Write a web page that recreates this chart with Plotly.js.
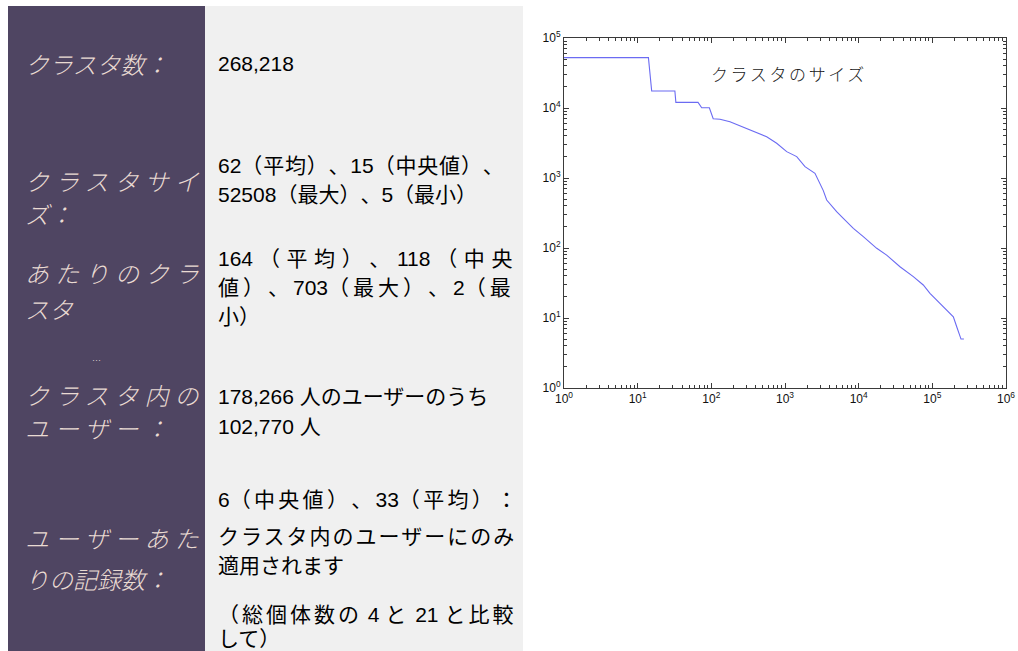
<!DOCTYPE html>
<html>
<head>
<meta charset="utf-8">
<script src="https://cdn.plot.ly/plotly-3.0.1.min.js"></script>
<style>
  html, body { margin: 0; padding: 0; background: #ffffff; }
  #chart { width: 1018px; height: 651px; }
  /* keep full-width punctuation at full width */
  #chart text { text-spacing-trim: space-all; }
</style>
</head>
<body>
<div id="chart"></div>
<script>
// Rank-size curve of the clusters (rank on x, cluster size on y)
const clusterRank = [1, 14, 15.5, 32, 33, 66, 74, 94, 106, 131, 179, 272, 372, 564, 771,
  1054, 1442, 1868, 2552, 2830, 3311, 3680, 5020, 6190, 8470, 11560, 17580, 23990,
  36390, 55210, 75340, 92900, 127000, 156700, 192800, 214300, 232300, 245000, 268218];
const clusterSize = [52508, 52508, 17500, 17500, 12050, 12050, 10100, 10100, 7030, 6900,
  6370, 5300, 4590, 3890, 3130, 2380, 2020, 1452, 1167, 935, 660, 485, 330, 265, 191,
  145, 99, 79, 54, 39, 29.6, 22.5, 16.2, 13, 10.4, 7.5, 5.7, 5, 5];

const chartTitle = 'クラスタのサイズ';
const decadeExponents = [0, 1, 2, 3, 4, 5, 6];
const yDecadeExponents = [0, 1, 2, 3, 4, 5];

// Statistics table: label lines (left column) and value lines (right column)
const labelLines = [
  ['クラスタ数：'],
  ['クラスタサイ', 'ズ：'],
  ['あたりのクラ', 'スタ'],
  ['クラスタ内の', 'ユーザー：'],
  ['ユーザーあた', 'りの記録数：']
];
const valueLines = [
  ['268,218'],
  ['62（平均）、15（中央値）、', '52508（最大）、5（最小）'],
  ['164 （平均）、118 （中央', '値）、703（最大）、2（最', '小）'],
  ['178,266 人のユーザーのうち', '102,770 人'],
  ['6（中央値）、33（平均）：', 'クラスタ内のユーザーにのみ', '適用されます'],
  ['（総個体数の 4 と 21 と比較', 'して）']
];

// ---- layout constants (pixels) ----
const W = 1018, H = 651;
const px = v => v / W;
const py = v => 1 - v / H;

const labelLineY = [[63], [180, 213], [272, 308], [394, 427], [537, 578]];
const labelSpacing = [[0], [6, 0], [6, 0], [6, 6], [6, 0]];
const valueLineY = [[63], [165, 195], [258, 287, 316], [396, 426], [499, 536, 565], [614, 638]];
const valueSpacing = [[0], [0.8, 0], [6.6, 4, 0], [0, 0], [3.3, 2, 0], [3, 0]];

// widen the CJK runs of a line (inter-character justification)
const isWide = ch => ch.codePointAt(0) >= 0x3000;
function justify(line, spacing) {
  if (!spacing) return line;
  let out = '', run = '';
  const flush = () => {
    if (run) out += '<span style="letter-spacing:' + spacing + 'px">' + run + '</span>';
    run = '';
  };
  for (const ch of line) {
    if (isWide(ch)) run += ch;
    else { flush(); out += ch; }
  }
  flush();
  return out;
}

const annotations = [];

labelLines.forEach((lines, i) => {
  lines.forEach((line, j) => {
    annotations.push({
      xref: 'paper', yref: 'paper',
      x: px(25), y: py(labelLineY[i][j]),
      xanchor: 'left', yanchor: 'middle',
      align: 'left', width: 180,
      borderpad: 0, borderwidth: 0,
      showarrow: false,
      text: justify(line, labelSpacing[i][j]),
      font: { family: 'Noto Sans CJK JP', size: 24, weight: 300, color: '#eadbd3', style: 'italic' }
    });
  });
});

// small dotted mark in the left column
annotations.push({
  xref: 'paper', yref: 'paper', x: px(96), y: py(358),
  xanchor: 'center', yanchor: 'middle', showarrow: false,
  text: '…', font: { family: 'DejaVu Sans', size: 9, color: '#cfc3c6' }
});

valueLines.forEach((lines, i) => {
  lines.forEach((line, j) => {
    annotations.push({
      xref: 'paper', yref: 'paper',
      x: px(218), y: py(valueLineY[i][j]),
      xanchor: 'left', yanchor: 'middle',
      align: 'left', borderpad: 0, borderwidth: 0,
      showarrow: false,
      text: justify(line, valueSpacing[i][j]),
      font: { family: 'Liberation Sans, Noto Sans CJK JP', size: 21, color: '#000000' }
    });
  });
});

annotations.push({
  xref: 'paper', yref: 'paper',
  x: px(789), y: py(73),
  xanchor: 'center', yanchor: 'middle', showarrow: false,
  text: justify(chartTitle, 2.6),
  font: { family: 'Noto Sans CJK JP', size: 17, weight: 300, color: '#1a1a1a' }
});

// minor tick positions for each decade (digits 2..9)
const minorTicks = (exps) => {
  const out = [];
  exps.slice(0, -1).forEach(e => {
    for (let d = 2; d <= 9; d++) out.push(d * Math.pow(10, e));
  });
  return out;
};

const axisCommon = {
  type: 'log',
  showgrid: false, zeroline: false,
  showline: true, linecolor: '#3a3a3a', linewidth: 1,
  mirror: 'allticks',
  ticks: 'inside', ticklen: 5, tickwidth: 1, tickcolor: '#3a3a3a',
  tickmode: 'array',
  tickfont: { family: 'Liberation Sans, Arial', size: 12, color: '#111111' }
};

const layout = {
  width: W, height: H,
  margin: { l: 0, r: 0, t: 0, b: 0 },
  paper_bgcolor: '#ffffff',
  plot_bgcolor: '#ffffff',
  showlegend: false,
  xaxis: Object.assign({}, axisCommon, {
    domain: [px(564), px(1006)],
    range: [0, 6],
    tickvals: decadeExponents.map(e => Math.pow(10, e)),
    ticktext: decadeExponents.map(e => '10<sup>' + e + '</sup>'),
    minor: { tickmode: 'array', tickvals: minorTicks(decadeExponents), ticks: 'inside', ticklen: 3, tickcolor: '#3a3a3a', showgrid: false }
  }),
  yaxis: Object.assign({}, axisCommon, {
    domain: [py(388), py(38)],
    range: [0, 5],
    tickvals: yDecadeExponents.map(e => Math.pow(10, e)),
    ticktext: yDecadeExponents.map(e => '10<sup>' + e + '</sup>'),
    minor: { tickmode: 'array', tickvals: minorTicks(yDecadeExponents), ticks: 'inside', ticklen: 3, tickcolor: '#3a3a3a', showgrid: false }
  }),
  shapes: [
    { type: 'rect', xref: 'paper', yref: 'paper', layer: 'below',
      x0: px(8), x1: px(205), y0: 0, y1: py(6),
      fillcolor: '#4f4562', line: { width: 0 } },
    { type: 'rect', xref: 'paper', yref: 'paper', layer: 'below',
      x0: px(205), x1: px(523), y0: 0, y1: py(6),
      fillcolor: '#f0f0f0', line: { width: 0 } }
  ],
  annotations: annotations
};

const traces = [{
  type: 'scatter', mode: 'lines',
  x: clusterRank, y: clusterSize,
  line: { color: '#6b6bf2', width: 1.1 },
  hoverinfo: 'x+y'
}];

Plotly.newPlot('chart', traces, layout, { displayModeBar: false, staticPlot: true });
</script>
</body>
</html>
